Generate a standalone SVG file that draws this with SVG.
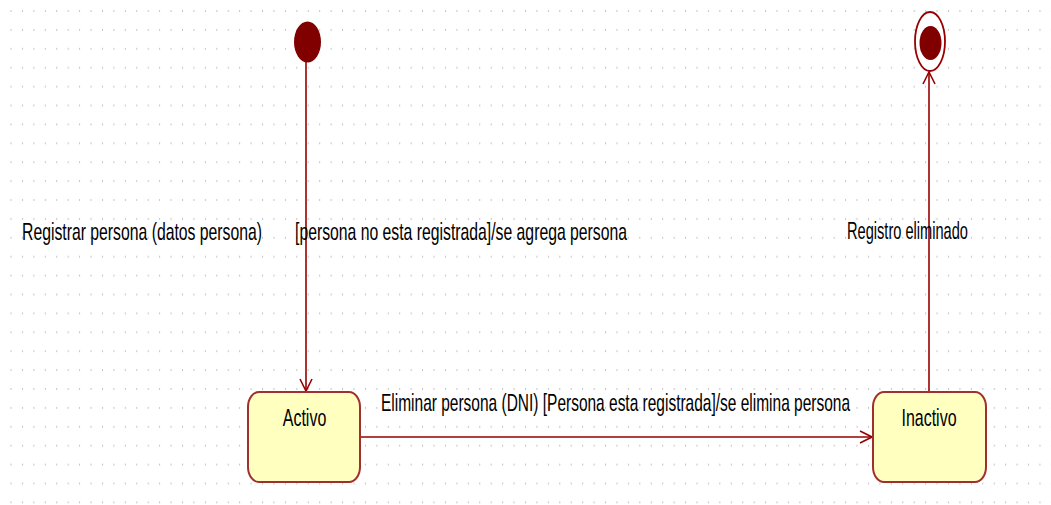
<svg xmlns="http://www.w3.org/2000/svg" width="1051" height="505" viewBox="0 0 1051 505">
<style>
.lbl{font-family:"Liberation Sans",Arial,sans-serif;font-size:16px;fill:#000}
.st{fill:#ffffc0;stroke:#a03030;stroke-width:2}
.edge{fill:none;stroke:#990000;stroke-width:1.6}
</style>
<defs>
<pattern id="grid" patternUnits="userSpaceOnUse" x="10.5" y="10" width="11.433" height="18.9">
<rect x="0" y="0" width="1" height="2" fill="#c4c4c4"/>
</pattern>
<marker id="open" viewBox="0 0 14 14" refX="13" refY="7" markerWidth="14" markerHeight="14" markerUnits="userSpaceOnUse" orient="auto">
<path d="M1,1 L13,7 L1,13" fill="none" stroke="#990000" stroke-width="1.6"/>
</marker>
</defs>
<rect width="1051" height="505" fill="#fff"/>
<rect width="1051" height="505" fill="url(#grid)"/>
<g id="connectors">
<path class="edge" d="M306,62 L306,391" marker-end="url(#open)"/>
<path class="edge" d="M361,437 L872,437" marker-end="url(#open)"/>
<path class="edge" d="M929,391 L929,72" marker-end="url(#open)"/>
</g>
<g id="labels">
<text class="lbl" transform="translate(22,240) scale(1,1.5)" textLength="240" lengthAdjust="spacingAndGlyphs">Registrar persona (datos persona)</text>
<text class="lbl" transform="translate(295,240) scale(1,1.5)" textLength="332" lengthAdjust="spacingAndGlyphs">[persona no esta registrada]/se agrega persona</text>
<text class="lbl" transform="translate(847,239) scale(1,1.5)" textLength="121" lengthAdjust="spacingAndGlyphs">Registro eliminado</text>
<text class="lbl" transform="translate(381,411) scale(1,1.5)" textLength="469" lengthAdjust="spacingAndGlyphs">Eliminar persona (DNI) [Persona esta registrada]/se elimina persona</text>
</g>
<g id="initial">
<ellipse cx="307.5" cy="42" rx="13.5" ry="20.5" fill="#800000"/>
</g>
<g id="final">
<ellipse cx="930" cy="41.5" rx="15" ry="29.5" fill="#fff" stroke="#990000" stroke-width="1.8"/>
<ellipse cx="930.5" cy="43" rx="11" ry="17" fill="#800000"/>
</g>
<g id="activo">
<rect class="st" x="248" y="392" width="112" height="90" rx="11" ry="15"/>
<text class="lbl" transform="translate(304.5,426) scale(1,1.5)" text-anchor="middle">Activo</text>
</g>
<g id="inactivo">
<rect class="st" x="873" y="392" width="113" height="90" rx="11" ry="15"/>
<text class="lbl" transform="translate(929,426) scale(1,1.5)" text-anchor="middle">Inactivo</text>
</g>
</svg>
